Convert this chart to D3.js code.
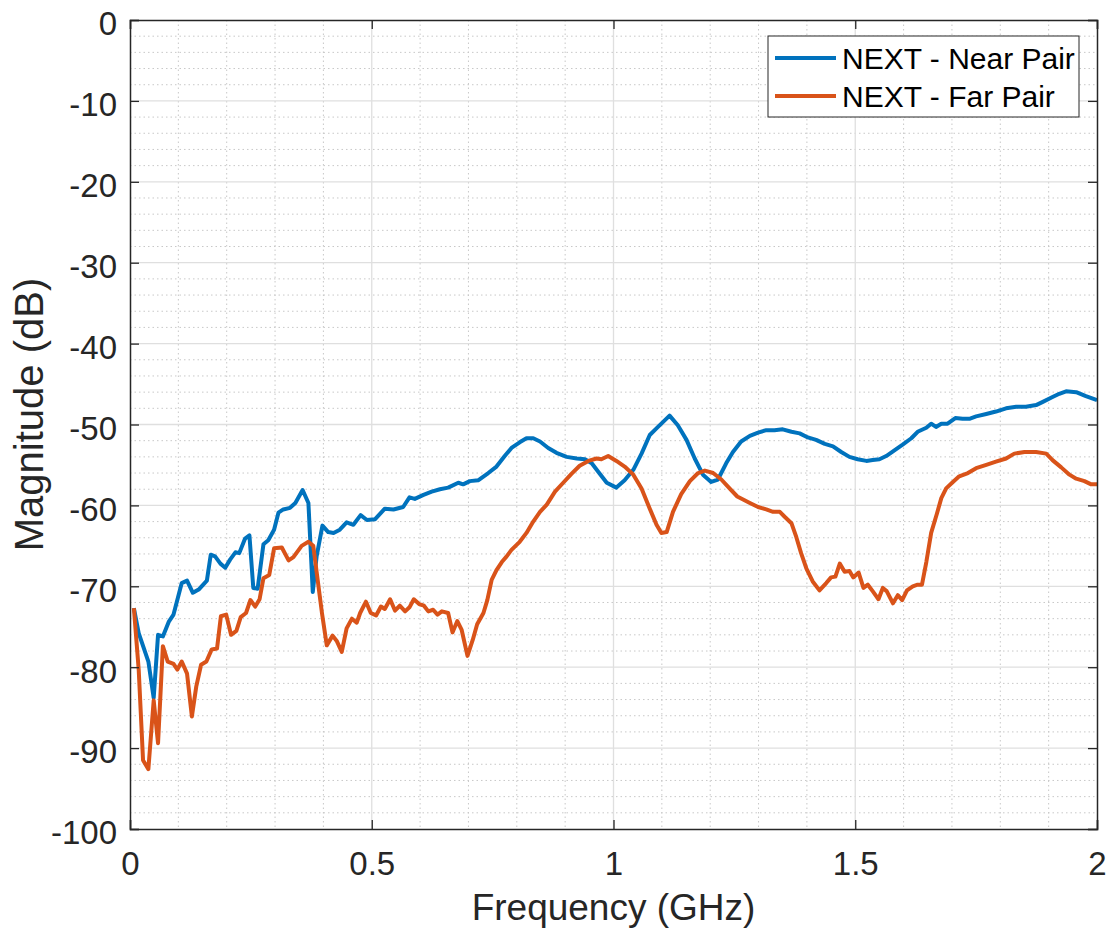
<!DOCTYPE html>
<html>
<head>
<meta charset="utf-8">
<script src="https://cdn.jsdelivr.net/npm/d3@7"></script>
<style>
  body { margin: 0; background: #fff; }
  svg { display: block; font-family: "Liberation Sans", Arial, Helvetica, sans-serif; }
</style>
</head>
<body>
<div id="chart"></div>
<script>
// Series data (frequency in GHz, magnitude in dB)
var nearFreq = [0.008, 0.018, 0.038, 0.049, 0.058, 0.068, 0.080, 0.090, 0.107, 0.118, 0.130, 0.142, 0.159, 0.167, 0.176, 0.187, 0.197, 0.207, 0.218, 0.226,
    0.238, 0.247, 0.255, 0.264, 0.276, 0.286, 0.298, 0.307, 0.317, 0.331, 0.342, 0.357, 0.369, 0.378, 0.386, 0.398, 0.410, 0.421, 0.434, 0.448,
    0.462, 0.477, 0.490, 0.507, 0.527, 0.545, 0.565, 0.578, 0.589, 0.607, 0.624, 0.641, 0.658, 0.679, 0.689, 0.703, 0.720, 0.741, 0.758, 0.775,
    0.789, 0.806, 0.820, 0.834, 0.848, 0.865, 0.882, 0.903, 0.924, 0.941, 0.955, 0.968, 0.986, 1.006, 1.023, 1.041, 1.058, 1.075, 1.092, 1.116,
    1.133, 1.151, 1.168, 1.185, 1.202, 1.216, 1.233, 1.247, 1.264, 1.282, 1.299, 1.316, 1.333, 1.350, 1.368, 1.385, 1.402, 1.419, 1.437, 1.454,
    1.471, 1.488, 1.505, 1.523, 1.536, 1.550, 1.564, 1.581, 1.598, 1.616, 1.629, 1.647, 1.657, 1.667, 1.678, 1.691, 1.707, 1.722, 1.736, 1.750,
    1.771, 1.791, 1.812, 1.833, 1.853, 1.874, 1.888, 1.908, 1.922, 1.936, 1.957, 1.977, 2.000];
var nearDb = [-72.7, -75.8, -79.3, -83.8, -76.0, -76.2, -74.4, -73.5, -69.6, -69.3, -70.8, -70.4, -69.3, -66.1, -66.3, -67.2, -67.7, -66.7, -65.8, -65.9,
    -64.1, -63.7, -70.2, -70.3, -64.8, -64.3, -63.0, -60.9, -60.5, -60.3, -59.7, -58.1, -59.7, -70.7, -66.3, -62.5, -63.3, -63.4, -63.0, -62.1,
    -62.4, -61.2, -61.8, -61.7, -60.4, -60.5, -60.2, -59.0, -59.2, -58.7, -58.3, -58.0, -57.8, -57.2, -57.4, -57.0, -56.9, -56.0, -55.2, -53.9,
    -52.9, -52.2, -51.7, -51.7, -52.1, -52.9, -53.5, -54.0, -54.2, -54.3, -54.8, -55.8, -57.2, -57.8, -56.9, -55.6, -53.6, -51.3, -50.3, -48.9,
    -50.1, -51.9, -54.2, -56.2, -57.1, -56.8, -54.8, -53.4, -52.1, -51.4, -51.0, -50.7, -50.7, -50.6, -50.9, -51.1, -51.6, -51.9, -52.4, -52.7,
    -53.4, -54.0, -54.3, -54.5, -54.4, -54.3, -53.9, -53.2, -52.5, -51.7, -50.9, -50.4, -49.9, -50.3, -49.9, -49.9, -49.2, -49.3, -49.3, -49.0,
    -48.7, -48.4, -48.0, -47.8, -47.8, -47.6, -47.2, -46.6, -46.2, -45.9, -46.0, -46.5, -47.0];

var farFreq = [0.008, 0.018, 0.027, 0.038, 0.049, 0.058, 0.068, 0.078, 0.090, 0.098, 0.107, 0.118, 0.128, 0.137, 0.147, 0.158, 0.169, 0.180, 0.188, 0.199,
    0.209, 0.220, 0.229, 0.240, 0.249, 0.259, 0.268, 0.276, 0.288, 0.298, 0.314, 0.328, 0.338, 0.355, 0.369, 0.379, 0.397, 0.407, 0.419, 0.428,
    0.438, 0.448, 0.459, 0.469, 0.476, 0.488, 0.498, 0.509, 0.519, 0.527, 0.538, 0.548, 0.558, 0.569, 0.578, 0.587, 0.598, 0.608, 0.617, 0.627,
    0.636, 0.645, 0.658, 0.667, 0.677, 0.686, 0.698, 0.709, 0.718, 0.731, 0.739, 0.748, 0.758, 0.769, 0.779, 0.789, 0.806, 0.820, 0.834, 0.848,
    0.862, 0.879, 0.896, 0.913, 0.930, 0.948, 0.965, 0.975, 0.989, 1.006, 1.023, 1.041, 1.058, 1.075, 1.089, 1.099, 1.110, 1.123, 1.140, 1.158,
    1.175, 1.189, 1.206, 1.223, 1.240, 1.256, 1.282, 1.299, 1.316, 1.330, 1.344, 1.354, 1.368, 1.378, 1.388, 1.399, 1.412, 1.426, 1.440, 1.450,
    1.459, 1.468, 1.478, 1.488, 1.496, 1.507, 1.517, 1.526, 1.536, 1.548, 1.557, 1.565, 1.578, 1.588, 1.597, 1.607, 1.619, 1.629, 1.638, 1.647,
    1.657, 1.669, 1.678, 1.688, 1.702, 1.715, 1.733, 1.750, 1.771, 1.791, 1.812, 1.829, 1.850, 1.874, 1.895, 1.908, 1.926, 1.943, 1.957, 1.974,
    1.988, 2.000];
var farDb = [-72.7, -80.3, -91.5, -92.6, -84.1, -89.4, -77.4, -79.3, -79.6, -80.3, -79.3, -80.8, -86.1, -82.4, -79.7, -79.3, -77.8, -77.7, -73.7, -73.5,
    -76.0, -75.5, -73.8, -73.3, -71.7, -72.5, -71.6, -69.0, -68.6, -65.3, -65.2, -66.8, -66.4, -65.0, -64.5, -65.0, -73.3, -77.3, -76.1, -76.8,
    -78.1, -75.2, -74.0, -74.5, -73.3, -71.9, -73.3, -73.6, -72.5, -72.8, -71.6, -73.0, -72.4, -73.1, -72.6, -71.6, -72.2, -72.4, -73.1, -72.9,
    -73.5, -73.1, -73.3, -75.7, -74.3, -75.4, -78.6, -76.6, -74.7, -73.3, -71.7, -69.2, -68.0, -67.0, -66.3, -65.5, -64.5, -63.4, -62.0, -60.8,
    -59.9, -58.3, -57.2, -56.1, -55.1, -54.5, -54.2, -54.3, -53.9, -54.5, -55.2, -56.2, -57.9, -60.4, -62.4, -63.4, -63.3, -60.8, -58.6, -57.0,
    -56.0, -55.7, -56.0, -56.8, -57.9, -58.9, -59.7, -60.2, -60.5, -60.8, -60.8, -61.4, -62.2, -63.9, -65.9, -67.8, -69.4, -70.5, -69.6, -68.9,
    -68.8, -67.2, -68.2, -68.1, -68.9, -68.3, -70.2, -69.8, -70.6, -71.6, -70.2, -70.6, -72.1, -71.1, -71.7, -70.5, -70.0, -69.8, -69.8, -67.0,
    -63.4, -61.0, -59.1, -57.9, -57.1, -56.4, -56.0, -55.4, -55.0, -54.6, -54.2, -53.6, -53.4, -53.4, -53.6, -54.4, -55.3, -56.2, -56.7, -57.0,
    -57.4, -57.4];

var seriesNames = ["NEXT - Near Pair", "NEXT - Far Pair"];
var seriesColors = ["#0072BD", "#D95319"];
var xTicks = [0, 0.5, 1, 1.5, 2];
var yTicks = [0, -10, -20, -30, -40, -50, -60, -70, -80, -90, -100];

var W = 1108, H = 933;
var mLeft = 130, mTop = 20, mRight = 1097, mBottom = 829;
var axisColor = "#262626";

var svg = d3.select("#chart").append("svg")
    .attr("width", W)
    .attr("height", H);

svg.append("rect").attr("width", W).attr("height", H).attr("fill", "#fff");

var x = d3.scaleLinear().domain([0, 2]).range([mLeft, mRight]);
var y = d3.scaleLinear().domain([-100, 0]).range([mBottom, mTop]);

// minor grid (dotted)
var grid = svg.append("g");
grid.selectAll(".mx")
    .data(d3.range(1, 20).filter(function(i) { return i % 5 != 0; }).map(function(i) { return i / 10; }))
    .enter().append("line")
    .attr("x1", function(d) { return x(d); })
    .attr("x2", function(d) { return x(d); })
    .attr("y1", mTop).attr("y2", mBottom)
    .attr("stroke", "#c8c8c8").attr("stroke-width", 1)
    .attr("stroke-dasharray", "1.5,3");
grid.selectAll(".my")
    .data(d3.range(-98, 0, 2).filter(function(d) { return d % 10 != 0; }))
    .enter().append("line")
    .attr("x1", mLeft).attr("x2", mRight)
    .attr("y1", function(d) { return y(d); })
    .attr("y2", function(d) { return y(d); })
    .attr("stroke", "#c8c8c8").attr("stroke-width", 1)
    .attr("stroke-dasharray", "1.5,3");

// major grid (solid)
grid.selectAll(".gx")
    .data(xTicks.slice(1, -1))
    .enter().append("line")
    .attr("x1", function(d) { return x(d); })
    .attr("x2", function(d) { return x(d); })
    .attr("y1", mTop).attr("y2", mBottom)
    .attr("stroke", "#dfdfdf").attr("stroke-width", 1.3);
grid.selectAll(".gy")
    .data(yTicks.slice(1, -1))
    .enter().append("line")
    .attr("x1", mLeft).attr("x2", mRight)
    .attr("y1", function(d) { return y(d); })
    .attr("y2", function(d) { return y(d); })
    .attr("stroke", "#dfdfdf").attr("stroke-width", 1.3);

// lines
var line = d3.line()
    .x(function(d) { return x(d[0]); })
    .y(function(d) { return y(d[1]); });

var series = [d3.zip(nearFreq, nearDb), d3.zip(farFreq, farDb)];
svg.selectAll(".series")
    .data(series)
    .enter().append("path")
    .attr("d", line)
    .attr("fill", "none")
    .attr("stroke", function(d, i) { return seriesColors[i]; })
    .attr("stroke-width", 4)
    .attr("stroke-linejoin", "round");

// axes with inward ticks
function fmt(d) { return String(d); }

var gx = svg.append("g").attr("transform", "translate(0," + mBottom + ")")
    .call(d3.axisBottom(x).tickValues(xTicks).tickFormat(fmt).tickSize(-9).tickPadding(23));
var gxTop = svg.append("g").attr("transform", "translate(0," + mTop + ")")
    .call(d3.axisTop(x).tickValues(xTicks).tickFormat("").tickSize(-9));
var gy = svg.append("g").attr("transform", "translate(" + mLeft + ",0)")
    .call(d3.axisLeft(y).tickValues(yTicks).tickFormat(fmt).tickSize(-9).tickPadding(13));
var gyRight = svg.append("g").attr("transform", "translate(" + mRight + ",0)")
    .call(d3.axisRight(y).tickValues(yTicks).tickFormat("").tickSize(-9));

[gx, gxTop, gy, gyRight].forEach(function(g) {
    g.select(".domain").attr("stroke", axisColor).attr("stroke-width", 1.5);
    g.selectAll(".tick line").attr("stroke", axisColor).attr("stroke-width", 1.3);
    g.selectAll(".tick text")
        .attr("fill", axisColor)
        .style("font-size", "33px")
        .style("font-family", "'Liberation Sans', Arial, Helvetica, sans-serif");
});
gy.selectAll(".tick text").attr("dy", "0.45em");

// axis labels
svg.append("text")
    .attr("x", (mLeft + mRight) / 2)
    .attr("y", 920)
    .attr("text-anchor", "middle")
    .attr("fill", axisColor)
    .style("font-size", "37px")
    .text("Frequency (GHz)");

svg.append("text")
    .attr("transform", "translate(43," + ((mTop + mBottom) / 2 - 10) + ") rotate(-90)")
    .attr("text-anchor", "middle")
    .attr("fill", axisColor)
    .style("font-size", "40px")
    .text("Magnitude (dB)");

// legend
var legend = svg.append("g");
legend.append("rect")
    .attr("x", 768).attr("y", 36)
    .attr("width", 311).attr("height", 81)
    .attr("fill", "#fff")
    .attr("stroke", axisColor).attr("stroke-width", 1);

seriesNames.forEach(function(name, i) {
    var ly = 58 + i * 38;
    legend.append("line")
        .attr("x1", 775).attr("x2", 836)
        .attr("y1", ly).attr("y2", ly)
        .attr("stroke", seriesColors[i])
        .attr("stroke-width", 4);
    legend.append("text")
        .attr("x", 842).attr("y", ly + 11)
        .attr("fill", "#000")
        .style("font-size", "30px")
        .text(name);
});
</script>
</body>
</html>
